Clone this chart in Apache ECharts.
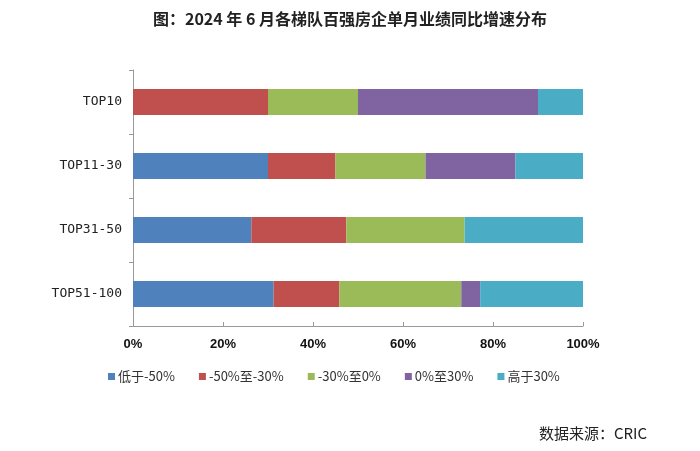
<!DOCTYPE html>
<html><head><meta charset="utf-8">
<script src="https://cdn.jsdelivr.net/npm/echarts@6/dist/echarts.min.js"></script>
<style>html,body{margin:0;padding:0;background:#fff}#c{width:700px;height:451px}</style>
</head><body><div id="c"></div>
<script>
var categories = ['TOP10', 'TOP11-30', 'TOP31-50', 'TOP51-100'];
var seriesNames = ['低于-50%', '-50%至-30%', '-30%至0%', '0%至30%', '高于30%'];
var below50 = [0, 30, 26.3, 31.25];
var m50to30 = [30, 15, 21.1, 14.6];
var m30to0 = [20, 20, 26.3, 27.1];
var p0to30 = [40, 20, 0, 4.2];
var above30 = [10, 15, 26.3, 22.9];
var xTicks = [0, 20, 40, 60, 80, 100];
var colors = ['#4F81BD', '#C0504D', '#9BBB59', '#8064A2', '#4BACC6'];
var values = [below50, m50to30, m30to0, p0to30, above30];

var chart = echarts.init(document.getElementById('c'));
chart.setOption({
  animation: false,
  title: [{
    text: '图：2024 年 6 月各梯队百强房企单月业绩同比增速分布',
    left: 'center', top: 6,
    textStyle: {fontFamily: 'Noto Sans CJK SC', fontWeight: 'bold', fontSize: 16, color: '#222'}
  }, {
    text: '数据来源：CRIC',
    right: 48, top: 421,
    textStyle: {fontFamily: 'Noto Sans CJK SC', fontWeight: 'normal', fontSize: 15, color: '#222'}
  }],
  legend: {
    data: seriesNames, left: 103, top: 365,
    itemWidth: 7, itemHeight: 7, itemGap: 24,
    icon: 'rect',
    textStyle: {fontFamily: 'Noto Sans CJK SC', fontSize: 13, color: '#333', padding: [0, 0, 0, -2]}
  },
  grid: {left: 133, right: 117, top: 70, bottom: 125},
  xAxis: {
    type: 'value', min: 0, max: 100, interval: 20,
    axisLine: {show: true, lineStyle: {color: '#999'}},
    axisTick: {show: true, inside: true, length: 4, lineStyle: {color: '#999'}},
    splitLine: {show: false},
    axisLabel: {formatter: function (v) { return xTicks.indexOf(v) >= 0 ? v + '%' : ''; }, fontFamily: 'Liberation Sans', fontWeight: 'bold', fontSize: 13, color: '#111', margin: 12}
  },
  yAxis: {
    type: 'category', data: categories, inverse: true,
    axisLine: {show: true, lineStyle: {color: '#999'}},
    axisTick: {show: true, length: 4, lineStyle: {color: '#999'}},
    axisLabel: {fontFamily: 'DejaVu Sans Mono', fontSize: 13, color: '#222', margin: 11}
  },
  series: seriesNames.map(function (n, i) {
    return {name: n, type: 'bar', stack: 's', barWidth: 26, data: values[i], itemStyle: {color: colors[i]}};
  })
});
</script></body></html>
